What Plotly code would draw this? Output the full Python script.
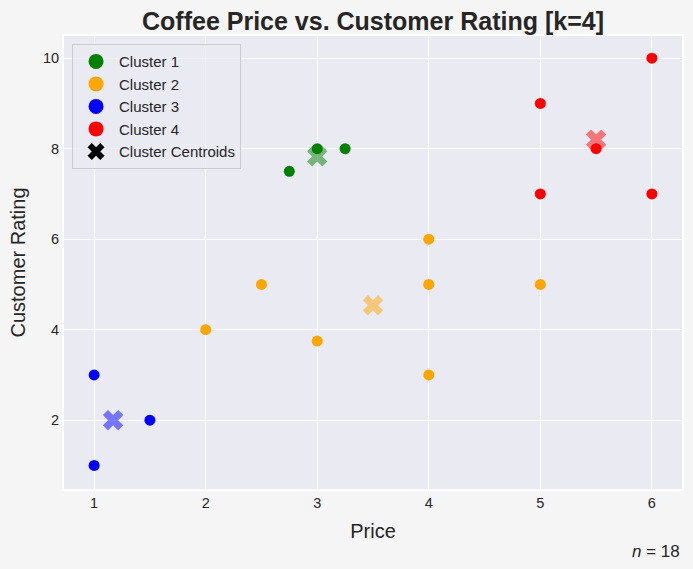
import plotly.graph_objects as go

# cluster members (price, rating)
c1_price = [2.75, 3.0, 3.25]
c1_rating = [7.5, 8.0, 8.0]
c2_price = [2.0, 2.5, 3.0, 4.0, 4.0, 4.0, 5.0]
c2_rating = [4.0, 5.0, 3.75, 6.0, 5.0, 3.0, 5.0]
c3_price = [1.0, 1.0, 1.5]
c3_rating = [3.0, 1.0, 2.0]
c4_price = [5.0, 5.0, 5.5, 6.0, 6.0]
c4_rating = [9.0, 7.0, 8.0, 10.0, 7.0]

# centroids
cent_price = [3.0, 3.5, 1.17, 5.5]
cent_rating = [7.83, 4.54, 2.0, 8.2]

names = ['Cluster 1', 'Cluster 2', 'Cluster 3', 'Cluster 4']
colors = ['green', 'orange', 'blue', 'red']
n_points = 18

fig = go.Figure()

clusters = [(c1_price, c1_rating), (c2_price, c2_rating),
            (c3_price, c3_rating), (c4_price, c4_rating)]

for i, (px, py) in enumerate(clusters):
    fig.add_trace(go.Scatter(
        x=px, y=py, mode='markers', name=names[i], legendgroup=names[i],
        showlegend=False,
        marker=dict(color=colors[i], size=11, line=dict(width=0)),
    ))
    # bigger marker for the legend entry
    fig.add_trace(go.Scatter(
        x=[None], y=[None], mode='markers', name=names[i], legendgroup=names[i],
        marker=dict(color=colors[i], size=15, line=dict(width=0)),
    ))

for i in range(4):
    fig.add_trace(go.Scatter(
        x=[cent_price[i]], y=[cent_rating[i]], mode='markers',
        showlegend=False, legendgroup='cent',
        marker=dict(symbol='x', color=colors[i], size=18, opacity=0.5,
                    line=dict(width=0)),
    ))

# legend-only entry for centroids
fig.add_trace(go.Scatter(
    x=[None], y=[None], mode='markers', name='Cluster Centroids', legendgroup='cent',
    marker=dict(symbol='x', color='black', size=15, line=dict(width=0)),
))

fig.add_annotation(
    x=1.0, y=-0.137, xref='paper', yref='paper', xanchor='right', yanchor='middle',
    text='<i>n</i> = %d' % n_points, showarrow=False,
    font=dict(size=17, color='#262626'),
)

fig.update_layout(
    width=693, height=569,
    margin=dict(l=64, r=9, t=36, b=80),
    paper_bgcolor='#f5f5f5',
    plot_bgcolor='#eaeaf2',
    font=dict(family='Liberation Sans, Arial, sans-serif', color='#262626', size=14.5),
    title=dict(text='<b>Coffee Price vs. Customer Rating [k=4]</b>',
               x=0.5, xref='paper', xanchor='center',
               y=0.963, yanchor='middle', font=dict(size=25)),
    legend=dict(x=0.013, y=0.982, xanchor='left', yanchor='top',
                bgcolor='rgba(234,234,242,0.8)', bordercolor='#cccccc',
                borderwidth=1, font=dict(size=15), itemsizing='trace',
                itemwidth=36, tracegroupgap=0),
    xaxis=dict(range=[0.73, 6.27], tickvals=[1, 2, 3, 4, 5, 6],
               showgrid=True, gridcolor='white', gridwidth=1.3,
               zeroline=False, showline=True, linecolor='white', linewidth=2,
               mirror=True, ticks='', tickfont=dict(size=14.5),
               title=dict(text='Price', font=dict(size=20), standoff=14)),
    yaxis=dict(range=[0.48, 10.49], tickvals=[2, 4, 6, 8, 10],
               showgrid=True, gridcolor='white', gridwidth=1.3,
               zeroline=False, showline=True, linecolor='white', linewidth=2,
               mirror=True, ticks='', tickfont=dict(size=14.5),
               title=dict(text='Customer Rating', font=dict(size=20), standoff=12)),
)

fig.write_html("out.html", config={'displayModeBar': False},
               post_script="document.body.style.margin='0';")
